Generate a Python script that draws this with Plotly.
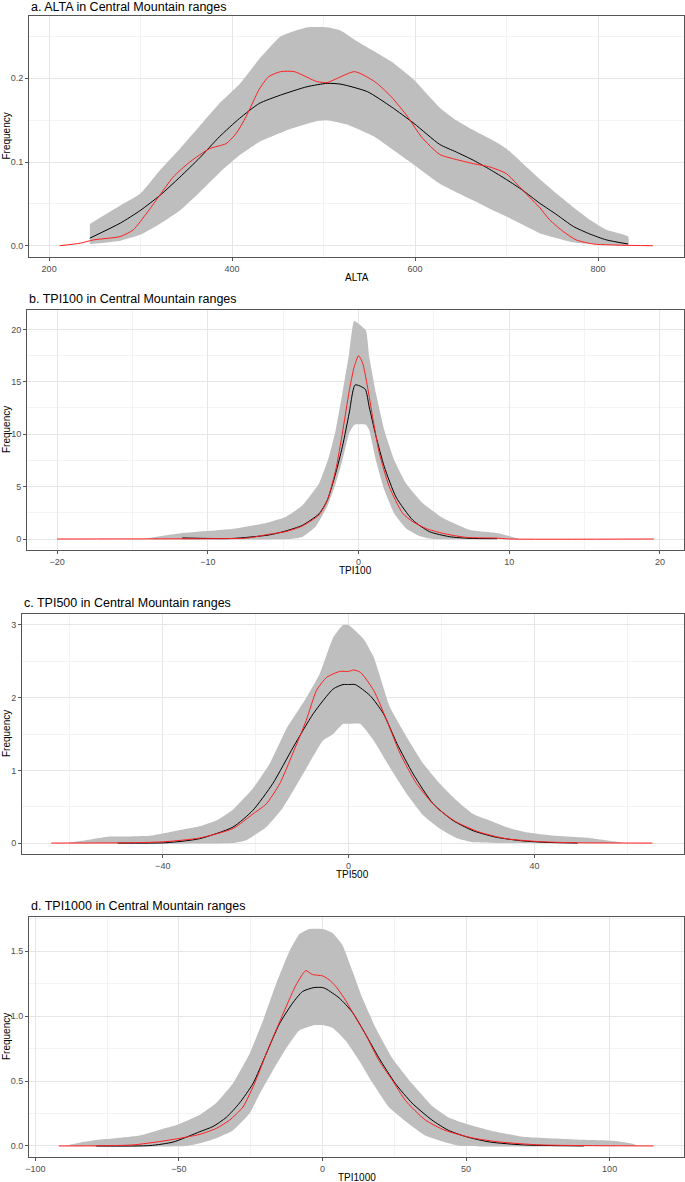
import plotly.graph_objects as go

# a. ALTA
a_up_x = [244.5, 277.8, 299.5, 321, 343, 364.6, 386, 408, 429.7, 453, 482, 504, 519, 537, 574, 599, 627, 645,
          664, 685, 700, 718, 736, 755, 773, 791, 809, 833]
a_up_y = [0.026, 0.048, 0.062, 0.090, 0.116, 0.143, 0.170, 0.193, 0.223, 0.250, 0.261, 0.261, 0.257, 0.244,
          0.220, 0.198, 0.165, 0.150, 0.138, 0.126, 0.116, 0.098, 0.080, 0.062, 0.046, 0.031, 0.019, 0.011]
a_lo_x = [244.5, 277.8, 299.5, 321, 343, 364.6, 386, 408, 429.7, 460, 493, 504, 525, 556, 592, 627, 645, 664,
          682, 700, 718, 736, 755, 773, 791, 833]
a_lo_y = [0.002, 0.006, 0.013, 0.026, 0.042, 0.064, 0.087, 0.108, 0.124, 0.138, 0.149, 0.150, 0.145, 0.130,
          0.102, 0.074, 0.064, 0.054, 0.044, 0.035, 0.025, 0.015, 0.009, 0.004, 0.002, 0.001]
a_mean_x = [244.5, 277.8, 299.5, 321, 343, 364.6, 386, 408, 429.7, 453, 482, 504, 519, 548, 574, 599, 627, 645,
            664, 682, 700, 718, 736, 755, 773, 791, 809, 833]
a_mean_y = [0.009, 0.027, 0.042, 0.060, 0.082, 0.105, 0.130, 0.152, 0.170, 0.180, 0.190, 0.194, 0.193, 0.184,
            0.166, 0.146, 0.121, 0.112, 0.102, 0.091, 0.079, 0.066, 0.051, 0.037, 0.023, 0.014, 0.007, 0.002]
a_obs_x = [211.6, 234, 248.8, 277.8, 292, 306.7, 319.4, 335.6, 353.7, 375.4, 393.5, 404.3, 415.2, 429.7, 440,
           453, 468, 493, 504, 515, 534, 556, 574, 592, 607, 627, 645, 664, 682, 700, 711, 725, 736, 747, 762,
           776, 795, 860]
a_obs_y = [0, 0.003, 0.007, 0.011, 0.019, 0.039, 0.058, 0.082, 0.100, 0.116, 0.122, 0.134, 0.154, 0.187, 0.202,
           0.208, 0.208, 0.196, 0.195, 0.200, 0.208, 0.196, 0.178, 0.154, 0.130, 0.109, 0.103, 0.098, 0.094,
           0.086, 0.074, 0.058, 0.046, 0.031, 0.017, 0.007, 0.002, 0]

# b. TPI100
b_up_x = [-14.2, -11.7, -8.4, -6.2, -4.84, -3.73, -2.62, -1.96, -1.51, -1.07, -0.62, -0.29, 0.49, 0.71, 1.16,
          1.71, 2.38, 3.16, 4.27, 5.6, 7.4, 9.2, 10.7]
b_up_y = [0.0, 0.57, 0.95, 1.5, 2.1, 3.2, 5.3, 7.85, 10.4, 13.9, 17.7, 20.8, 19.9, 17.4, 13.9, 10.4, 7.5, 5.3,
          3.4, 2.0, 0.86, 0.57, 0.0]
b_lo_x = [-14.2, -4.6, -3.73, -2.84, -2.07, -1.51, -1.07, -0.62, -0.27, 0.49, 0.71, 1.16, 1.71, 2.38, 3.16,
          4.04, 4.93, 10.7]
b_lo_y = [0, 0, 0.2, 1.2, 3.1, 5.3, 7.5, 10.1, 10.9, 10.9, 10.4, 7.5, 4.7, 2.4, 1.0, 0.29, 0, 0]
b_mean_x = [-11.7, -8.4, -5.96, -4.84, -3.73, -2.62, -2.07, -1.51, -1.07, -0.62, -0.22, 0.44, 0.71, 1.16,
            1.71, 2.49, 3.6, 4.71, 6.04, 7.4, 9.2]
b_mean_y = [0.1, 0.05, 0.38, 0.76, 1.3, 2.4, 3.7, 6.3, 8.8, 12.0, 14.7, 14.3, 12.6, 9.8, 6.9, 4.0, 1.8, 0.7,
            0.22, 0.06, 0.03]
b_obs_x = [-20, -8.0, -7.3, -5.96, -4.84, -3.73, -2.62, -2.07, -1.51, -1.07, -0.62, -0.29, 0.0, 0.27, 0.6,
           0.93, 1.38, 2.04, 2.93, 3.6, 4.49, 5.6, 7.16, 9.2, 10.0, 19.6]
b_obs_y = [0, 0.05, 0.1, 0.45, 0.7, 1.24, 2.3, 3.7, 6.6, 10.1, 14.1, 16.4, 17.5, 16.8, 14.5, 11.7, 8.2, 5.0,
           2.45, 1.65, 1.0, 0.54, 0.15, 0.08, 0, 0]

# c. TPI500
c_up_x = [-60.9, -56.5, -51.5, -47.9, -42.9, -37.8, -32.1, -28.5, -24.9, -20.6, -17.0, -13.4, -9.1, -6.2,
          -3.3, -1.2, 0.0, 3.2, 5.4, 8.9, 12.5, 16.1, 19.6, 23.2, 26.8, 30.4, 33.9, 38.2, 44.6, 51.8, 59.6]
c_up_y = [0, 0.04, 0.09, 0.09, 0.10, 0.16, 0.23, 0.31, 0.46, 0.75, 1.09, 1.57, 2.0, 2.33, 2.83, 3.0, 3.0,
          2.81, 2.56, 1.87, 1.46, 1.09, 0.82, 0.59, 0.40, 0.31, 0.22, 0.15, 0.10, 0.07, 0]
c_lo_x = [-60.9, -25.0, -22.0, -17.7, -14.1, -9.8, -5.5, -3.3, -1.2, 0.0, 2.5, 5.4, 8.9, 12.5, 16.1, 19.6,
          23.2, 26.8, 59.6]
c_lo_y = [0, 0, 0.04, 0.22, 0.49, 0.95, 1.41, 1.50, 1.64, 1.64, 1.64, 1.41, 1.04, 0.68, 0.38, 0.20, 0.07,
          0.01, 0]
c_mean_x = [-49.7, -39.3, -32.1, -24.9, -20.6, -16.3, -11.9, -7.6, -3.3, -1.2, 0.0, 1.4, 4.6, 7.5, 10.4,
            13.9, 18.2, 22.5, 26.8, 31.8, 37.5, 42.5, 49.3]
c_mean_y = [0, 0.005, 0.06, 0.22, 0.45, 0.82, 1.32, 1.78, 2.12, 2.18, 2.18, 2.18, 2.03, 1.78, 1.37, 0.95,
            0.54, 0.31, 0.17, 0.08, 0.03, 0.01, 0]
c_obs_x = [-64, -46.5, -39.3, -32.1, -24.9, -20.6, -17.7, -14.8, -11.9, -9.1, -6.9, -4.7, -1.9, 0.0, 1.1,
           2.5, 5.4, 8.2, 11.1, 14.6, 18.9, 23.2, 28.2, 33.9, 41.1, 48.2, 65.4]
c_obs_y = [0, 0.005, 0.02, 0.07, 0.20, 0.40, 0.54, 0.82, 1.25, 1.69, 2.10, 2.28, 2.36, 2.36, 2.38, 2.35,
           2.10, 1.69, 1.23, 0.82, 0.49, 0.29, 0.15, 0.06, 0.02, 0.005, 0]

# d. TPI1000
d_up_x = [-89.3, -83.4, -77.6, -71.8, -63.6, -54.3, -49.7, -42.7, -37.0, -31.2, -25.4, -20.8, -16.2, -11.5,
          -8.1, -4.6, 0.0, 3.5, 6.9, 10.4, 13.9, 18.5, 24.2, 31.2, 38.1, 43.9, 50.2, 58.4, 70.0, 87.4, 101.4,
          108.4, 110]
d_up_y = [0, 0.03, 0.05, 0.06, 0.08, 0.14, 0.17, 0.24, 0.33, 0.48, 0.71, 0.96, 1.245, 1.5, 1.63, 1.67, 1.67,
          1.64, 1.55, 1.35, 1.14, 0.91, 0.68, 0.48, 0.31, 0.22, 0.17, 0.12, 0.07, 0.05, 0.04, 0.015, 0]
d_lo_x = [-89.3, -47.3, -42.7, -37.0, -31.2, -25.4, -21.9, -17.3, -12.7, -8.1, -3.0, 0.5, 3.5, 8.1, 12.7,
          17.3, 23.1, 28.9, 35.8, 43.9, 48, 110]
d_lo_y = [0, 0, 0.02, 0.06, 0.12, 0.25, 0.40, 0.58, 0.75, 0.89, 0.93, 0.93, 0.91, 0.81, 0.66, 0.49, 0.30,
          0.19, 0.08, 0.02, 0, 0]
d_mean_x = [-78.8, -60.1, -52.0, -42.7, -38.1, -33.5, -28.9, -24.2, -19.6, -15.0, -10.4, -6.9, -2.9, 0.0,
            1.2, 5.8, 10.4, 15.0, 19.6, 25.4, 31.2, 38.1, 43.9, 50.2, 58.4, 70.0, 91]
d_mean_y = [0, 0.003, 0.03, 0.11, 0.15, 0.22, 0.33, 0.48, 0.71, 0.94, 1.10, 1.19, 1.22, 1.22, 1.21, 1.14,
            1.03, 0.86, 0.68, 0.48, 0.33, 0.20, 0.12, 0.07, 0.03, 0.008, 0]
d_obs_x = [-91.8, -66.0, -52.0, -42.7, -37.0, -32.3, -27.7, -23.1, -19.6, -16.2, -12.7, -9.2, -5.8, -3.5,
           0.0, 2.3, 4.6, 8.1, 11.5, 15.0, 19.6, 24.2, 28.9, 35.8, 42.7, 52.6, 61.9, 75.8, 115.3]
d_obs_y = [0, 0.008, 0.05, 0.09, 0.135, 0.20, 0.30, 0.51, 0.71, 0.89, 1.07, 1.24, 1.35, 1.32, 1.31, 1.28,
           1.23, 1.12, 0.99, 0.86, 0.66, 0.51, 0.35, 0.20, 0.12, 0.06, 0.03, 0.008, 0]

titles = ["a. ALTA in Central Mountain ranges", "b. TPI100 in Central Mountain ranges",
          "c. TPI500 in Central Mountain ranges", "d. TPI1000 in Central Mountain ranges"]
xlabels = ["ALTA", "TPI100", "TPI500", "TPI1000"]

W, H = 685, 1182
FONT = "Liberation Sans, Arial, sans-serif"

# panel boxes in pixels: left, right, top, bottom
boxes = [(29, 684, 16, 257), (27, 684, 310, 550), (22, 684, 614, 854), (29, 684, 917, 1157)]
xranges = [[178, 894], [-22.0, 21.6], [-70.3, 72.2], [-102.2, 125.9]]
yranges = [[-0.0135, 0.2745], [-1.05, 21.85], [-0.15, 3.15], [-0.085, 1.763]]
xticks = [(200, 100), (10, 5), (40, 20), (50, 25)]
yticks = [(0.1, 0.05, ".1f"), (5, 2.5, "d"), (1, 0.5, "d"), (0.5, 0.25, ".1f")]

series = [
    (a_up_x, a_up_y, a_lo_x, a_lo_y, a_mean_x, a_mean_y, a_obs_x, a_obs_y),
    (b_up_x, b_up_y, b_lo_x, b_lo_y, b_mean_x, b_mean_y, b_obs_x, b_obs_y),
    (c_up_x, c_up_y, c_lo_x, c_lo_y, c_mean_x, c_mean_y, c_obs_x, c_obs_y),
    (d_up_x, d_up_y, d_lo_x, d_lo_y, d_mean_x, d_mean_y, d_obs_x, d_obs_y),
]

fig = go.Figure()
annotations = []

for i, (box, s) in enumerate(zip(boxes, series)):
    n = "" if i == 0 else str(i + 1)
    xa, ya = "x" + n, "y" + n
    upx, upy, lox, loy, mx, my, ox, oy = s

    # envelope as one closed polygon
    fig.add_trace(go.Scatter(x=upx + lox[::-1], y=upy + loy[::-1], xaxis=xa, yaxis=ya,
                             mode="lines", fill="toself", fillcolor="#BEBEBE",
                             line=dict(width=0, color="#BEBEBE", shape="spline", smoothing=0.4),
                             hoverinfo="skip", showlegend=False))
    fig.add_trace(go.Scatter(x=mx, y=my, xaxis=xa, yaxis=ya, mode="lines",
                             line=dict(color="black", width=1, shape="spline", smoothing=0.6),
                             showlegend=False))
    fig.add_trace(go.Scatter(x=ox, y=oy, xaxis=xa, yaxis=ya, mode="lines",
                             line=dict(color="#FF2020", width=1, shape="spline", smoothing=0.6),
                             showlegend=False))

    l, r, t, b = box
    xdom = [l / W, r / W]
    ydom = [1 - b / H, 1 - t / H]
    xd, xm = xticks[i]
    yd, ym, yf = yticks[i]
    common = dict(showline=True, mirror=True, linecolor="#555555", linewidth=1, automargin=False,
                  showgrid=True, gridcolor="#E6E6E6", gridwidth=1, zeroline=False,
                  ticks="outside", ticklen=3, tickcolor="#555555",
                  tickfont=dict(family=FONT, size=9, color="#4D4D4D"))
    fig.layout["xaxis" + n] = dict(common, domain=xdom, range=xranges[i], dtick=xd, tick0=0,
                                   anchor=ya, minor=dict(dtick=xm, tick0=0, showgrid=True,
                                                         gridcolor="#F3F3F3", ticks=""))
    fig.layout["yaxis" + n] = dict(common, domain=ydom, range=yranges[i], dtick=yd, tick0=0,
                                   tickformat=yf, anchor=xa,
                                   minor=dict(dtick=ym, tick0=0, showgrid=True,
                                              gridcolor="#F3F3F3", ticks=""))

    ty = 7 if i == 0 else t - 11
    annotations.append(dict(text=titles[i], x=l / W, y=1 - ty / H, xref="paper", yref="paper",
                            xanchor="left", yanchor="middle", showarrow=False,
                            font=dict(family=FONT, size=12.5, color="black")))
    annotations.append(dict(text=xlabels[i], x=(l + r) / 2 / W, y=1 - (b + 20) / H, xref="paper",
                            yref="paper", xanchor="center", yanchor="middle", showarrow=False,
                            font=dict(family=FONT, size=10, color="black")))
    annotations.append(dict(text="Frequency", x=6 / W, y=1 - (t + b) / 2 / H, xref="paper", yref="paper",
                            xanchor="center", yanchor="middle", textangle=-90, showarrow=False,
                            font=dict(family=FONT, size=10, color="black")))

fig.update_layout(width=W, height=H, margin=dict(l=0, r=0, t=0, b=0, autoexpand=False),
                  paper_bgcolor="white", plot_bgcolor="white",
                  annotations=annotations, showlegend=False)

# the page body has a default 8px margin; drop it so the figure sits at the window corner
fig.write_html("out.html", config={"displayModeBar": False},
               post_script="document.body.style.margin = '0';")
